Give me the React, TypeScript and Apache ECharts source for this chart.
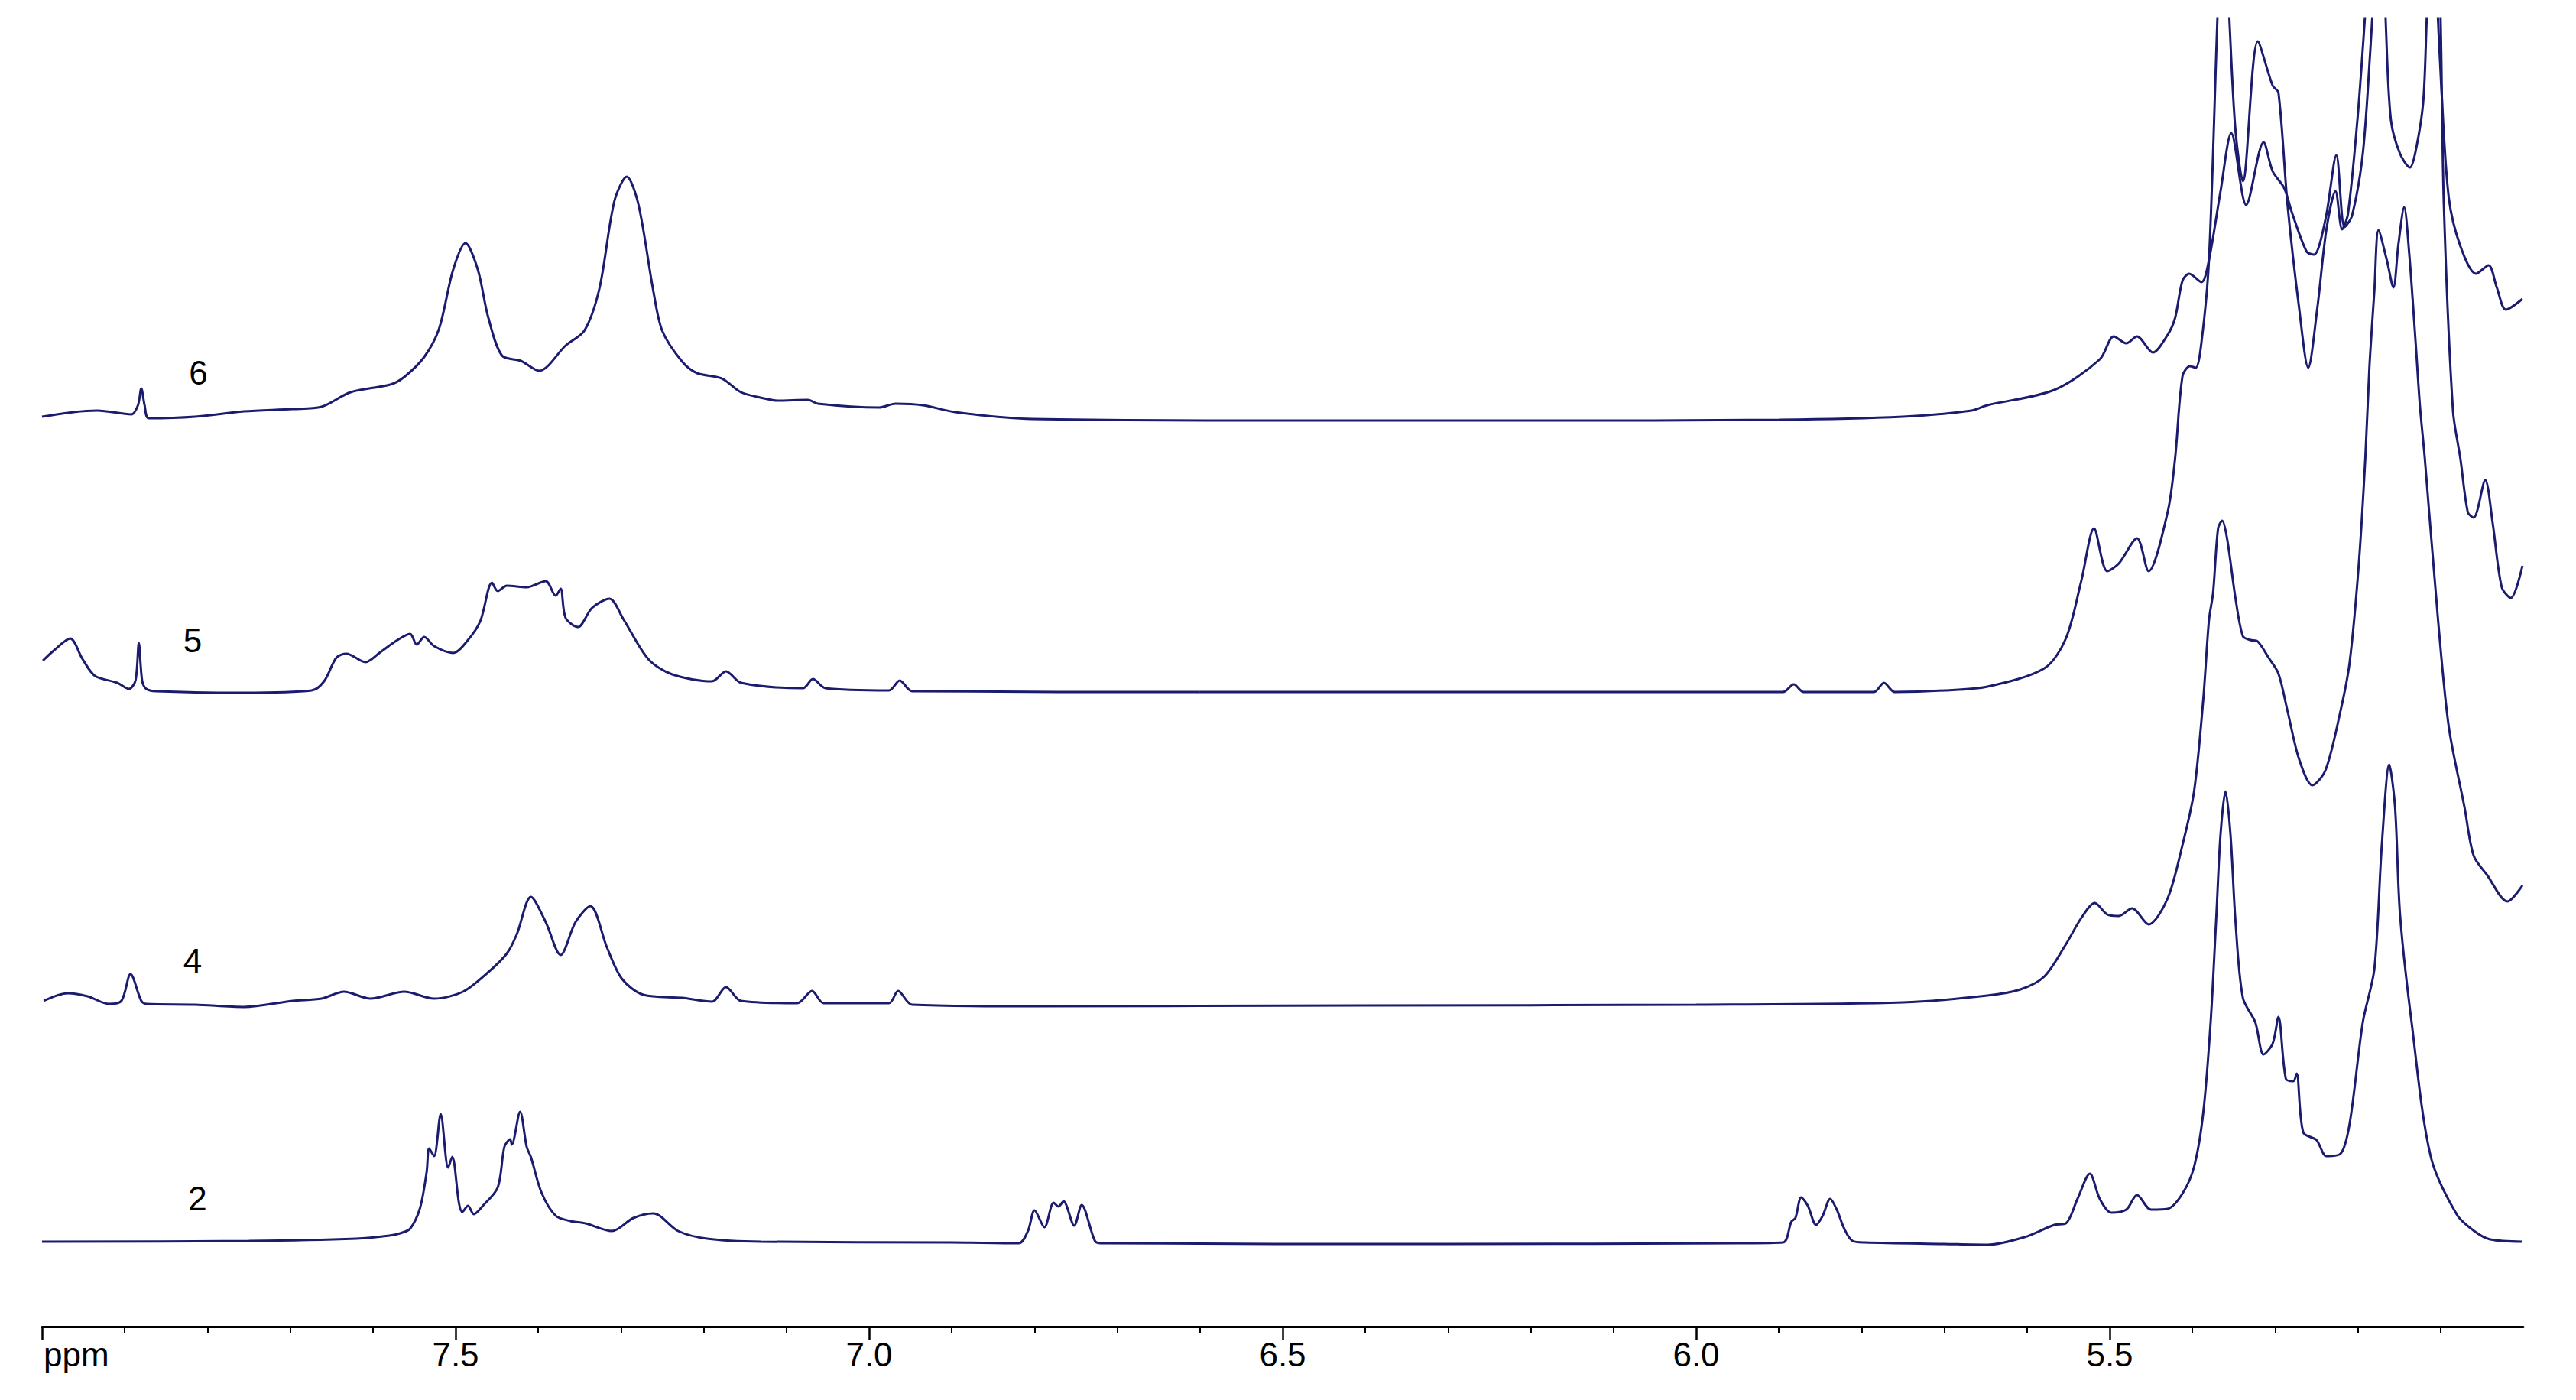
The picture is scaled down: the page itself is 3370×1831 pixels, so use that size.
import React, { useEffect, useRef } from 'react';
import * as echarts from 'echarts';

const COLOR = '#1b1c6e';
const FONT = '"Liberation Sans", Arial, sans-serif';

const sampleNames = ['2', '4', '5', '6'];
const labelPpm = [7.812, 7.818, 7.818, 7.811];
const labelIntensity = [168, 479, 898, 1248];
const majorTicks = [8.0, 7.5, 7.0, 6.5, 6.0, 5.5];
const tickLabels = [7.5, 7.0, 6.5, 6.0, 5.5];

const spectrum2: [number, number][] = [
  [8.0, 111], [7.75, 112], [7.62, 115], [7.58, 119], [7.567, 122], [7.555, 128], [7.543, 155], [7.535, 202],
  [7.532, 233], [7.526, 223], [7.518, 278], [7.509, 208], [7.504, 222], [7.496, 162], [7.492, 150], [7.485, 158],
  [7.478, 147], [7.467, 158], [7.449, 182], [7.441, 235], [7.434, 245], [7.432, 238], [7.422, 281], [7.414, 235],
  [7.409, 222], [7.396, 175], [7.379, 145], [7.361, 138], [7.343, 135], [7.311, 125], [7.285, 142], [7.261, 148],
  [7.231, 125], [7.196, 115], [7.131, 111], [6.9, 110], [6.819, 109], [6.808, 125], [6.8, 152], [6.788, 130],
  [6.777, 162], [6.771, 157], [6.765, 164], [6.752, 132], [6.743, 159], [6.727, 112], [6.72, 109], [6.3, 108],
  [5.95, 109], [5.895, 110], [5.885, 137], [5.88, 142], [5.873, 169], [5.865, 158], [5.855, 133], [5.847, 145],
  [5.838, 167], [5.83, 153], [5.821, 128], [5.811, 112], [5.796, 110], [5.7, 108], [5.648, 107], [5.603, 117],
  [5.567, 133], [5.553, 135], [5.539, 167], [5.524, 200], [5.512, 167], [5.498, 149], [5.48, 153], [5.467, 172],
  [5.45, 153], [5.43, 154], [5.412, 174], [5.398, 209], [5.387, 279], [5.378, 398], [5.371, 539], [5.366, 644],
  [5.36, 700], [5.354, 644], [5.348, 531], [5.339, 430], [5.324, 398], [5.314, 356], [5.303, 370], [5.296, 405],
  [5.287, 324], [5.278, 321], [5.274, 331], [5.266, 254], [5.25, 244], [5.238, 223], [5.221, 226], [5.21, 265],
  [5.194, 398], [5.18, 468], [5.171, 630], [5.162, 735], [5.155, 679], [5.149, 539], [5.135, 398], [5.112, 223],
  [5.08, 146], [5.058, 124], [5.04, 114], [5.001, 111],
];

const spectrum4: [number, number][] = [
  [7.998, 426], [7.969, 436], [7.945, 432], [7.919, 422], [7.904, 426], [7.893, 461], [7.88, 426], [7.874, 422],
  [7.815, 421], [7.756, 418], [7.697, 426], [7.662, 429], [7.635, 438], [7.603, 429], [7.562, 438], [7.526, 429],
  [7.491, 438], [7.461, 463], [7.438, 488], [7.426, 513], [7.409, 562], [7.391, 529], [7.373, 486], [7.355, 529],
  [7.337, 550], [7.317, 496], [7.299, 455], [7.273, 434], [7.226, 430], [7.19, 425], [7.173, 444], [7.155, 426],
  [7.087, 423], [7.069, 439], [7.055, 423], [6.976, 423], [6.965, 439], [6.948, 421], [6.803, 419], [6.4, 420],
  [6.0, 421], [5.75, 424], [5.648, 433], [5.608, 441], [5.579, 458], [5.553, 500], [5.534, 535], [5.518, 554],
  [5.503, 539], [5.489, 537], [5.473, 547], [5.453, 526], [5.43, 560], [5.412, 630], [5.398, 700], [5.387, 819],
  [5.38, 924], [5.375, 960], [5.369, 1044], [5.364, 1054], [5.358, 1030], [5.348, 953], [5.339, 903], [5.33, 898],
  [5.321, 896], [5.308, 875], [5.296, 854], [5.285, 805], [5.271, 742], [5.255, 708], [5.239, 728], [5.221, 805],
  [5.21, 868], [5.199, 995], [5.191, 1135], [5.186, 1255], [5.18, 1355], [5.175, 1434], [5.165, 1395], [5.157, 1359],
  [5.151, 1415], [5.144, 1464], [5.138, 1405], [5.13, 1285], [5.125, 1205], [5.119, 1135], [5.103, 924], [5.09, 784],
  [5.071, 679], [5.06, 616], [5.044, 591], [5.019, 556], [5.001, 577],
];

const spectrum5: [number, number][] = [
  [7.999, 871], [7.986, 884], [7.966, 900], [7.951, 873], [7.936, 851], [7.909, 842], [7.895, 834], [7.887, 845],
  [7.883, 894], [7.879, 845], [7.874, 834], [7.862, 831], [7.756, 829], [7.674, 832], [7.659, 844], [7.644, 875],
  [7.632, 880], [7.609, 869], [7.591, 882], [7.573, 896], [7.555, 906], [7.547, 892], [7.538, 902], [7.526, 890],
  [7.503, 881], [7.485, 898], [7.47, 923], [7.456, 973], [7.449, 962], [7.438, 969], [7.414, 967], [7.391, 975],
  [7.379, 956], [7.373, 965], [7.367, 927], [7.352, 915], [7.335, 940], [7.314, 952], [7.297, 925], [7.267, 873],
  [7.238, 853], [7.19, 844], [7.173, 857], [7.155, 842], [7.08, 835], [7.068, 847], [7.053, 835], [6.976, 832],
  [6.963, 845], [6.948, 831], [6.6, 830], [6.2, 830], [5.895, 830], [5.882, 840], [5.87, 830], [5.785, 830],
  [5.773, 842], [5.76, 830], [5.7, 832], [5.648, 837], [5.579, 861], [5.553, 900], [5.534, 977], [5.519, 1044],
  [5.503, 988], [5.489, 998], [5.467, 1031], [5.453, 988], [5.43, 1065], [5.421, 1135], [5.412, 1243], [5.403, 1256],
  [5.396, 1254], [5.389, 1288], [5.38, 1395], [5.37, 1704], [5.363, 1900], [5.355, 1703], [5.348, 1565], [5.339, 1498],
  [5.321, 1681], [5.303, 1623], [5.296, 1614], [5.285, 1467], [5.271, 1332], [5.26, 1254], [5.249, 1332], [5.238, 1435],
  [5.227, 1485], [5.219, 1435], [5.212, 1455], [5.2, 1585], [5.19, 1735], [5.175, 1980], [5.14, 1960], [5.112, 1980],
  [5.101, 1755], [5.096, 1467], [5.085, 1198], [5.076, 1135], [5.067, 1065], [5.06, 1058], [5.046, 1107], [5.037, 1051],
  [5.026, 967], [5.015, 953], [5.001, 995],
];

const spectrum6: [number, number][] = [
  [8.0, 1190], [7.962, 1196], [7.933, 1198], [7.892, 1193], [7.884, 1205], [7.88, 1227], [7.876, 1205], [7.871, 1188],
  [7.815, 1190], [7.756, 1197], [7.697, 1200], [7.662, 1203], [7.627, 1222], [7.579, 1232], [7.562, 1242], [7.538, 1268],
  [7.52, 1305], [7.503, 1382], [7.488, 1417], [7.473, 1382], [7.461, 1322], [7.444, 1270], [7.421, 1263], [7.399, 1250],
  [7.367, 1283], [7.344, 1303], [7.326, 1358], [7.308, 1472], [7.293, 1504], [7.279, 1468], [7.261, 1355], [7.25, 1302],
  [7.226, 1262], [7.208, 1247], [7.178, 1240], [7.155, 1222], [7.127, 1214], [7.111, 1211], [7.074, 1212], [7.062, 1207],
  [6.988, 1202], [6.968, 1207], [6.935, 1205], [6.896, 1196], [6.803, 1187], [6.5, 1185], [6.2, 1185], [5.9, 1186],
  [5.75, 1190], [5.667, 1198], [5.648, 1205], [5.567, 1225], [5.512, 1265], [5.495, 1295], [5.48, 1286], [5.467, 1295],
  [5.448, 1274], [5.43, 1297], [5.421, 1319], [5.412, 1368], [5.404, 1377], [5.389, 1366], [5.38, 1395], [5.366, 1485],
  [5.353, 1561], [5.335, 1467], [5.314, 1549], [5.303, 1511], [5.289, 1489], [5.28, 1458], [5.262, 1406], [5.253, 1402],
  [5.239, 1449], [5.226, 1532], [5.216, 1438], [5.207, 1453], [5.194, 1534], [5.185, 1668], [5.178, 1795], [5.172, 1900],
  [5.166, 1699], [5.16, 1578], [5.149, 1534], [5.137, 1516], [5.13, 1538], [5.121, 1601], [5.117, 1703], [5.111, 1880],
  [5.105, 1755], [5.099, 1619], [5.09, 1476], [5.076, 1413], [5.057, 1377], [5.042, 1388], [5.032, 1359], [5.021, 1330],
  [5.001, 1344],
];

const spectra = [spectrum2, spectrum4, spectrum5, spectrum6];

const AXIS_Y = 1735;
const LABEL_MARGIN = 14;

export default function App() {
  const ref = useRef<HTMLDivElement>(null);
  useEffect(() => {
    if (!ref.current) return;
    const chart = echarts.init(ref.current, null, { renderer: 'svg' });
    chart.setOption({
      animation: false,
      backgroundColor: '#ffffff',
      grid: { left: 55, right: 69, top: 24, bottom: 1831 - AXIS_Y, containLabel: false, outerBoundsMode: 'none' },
      xAxis: {
        type: 'value',
        inverse: true,
        min: 5,
        max: 8,
        interval: 0.5,
        axisLine: { show: true, onZero: false, lineStyle: { color: '#000', width: 3 } },
        axisTick: { show: true, length: 17, lineStyle: { color: '#000', width: 2.5 }, customValues: majorTicks },
        minorTick: { show: true, splitNumber: 5, length: 8, lineStyle: { color: '#000', width: 2 } },
        axisLabel: {
          customValues: tickLabels,
          formatter: (v: number) => v.toFixed(1),
          fontSize: 44,
          fontFamily: FONT,
          color: '#000',
          margin: LABEL_MARGIN,
        },
        splitLine: { show: false },
        minorSplitLine: { show: false },
      },
      yAxis: { type: 'value', min: 0, max: 1711, show: false, splitLine: { show: false } },
      series: spectra.map((d, i) => ({
        type: 'line',
        name: sampleNames[i],
        data: d,
        showSymbol: false,
        symbol: 'none',
        smooth: 0.3,
        clip: true,
        silent: true,
        lineStyle: { color: COLOR, width: 3 },
        markPoint: {
          symbol: 'circle',
          symbolSize: 1,
          silent: true,
          itemStyle: { color: 'rgba(0,0,0,0)' },
          label: {
            show: true,
            position: 'inside',
            formatter: sampleNames[i],
            color: '#000',
            fontSize: 44,
            fontFamily: FONT,
          },
          data: [{ coord: [labelPpm[i], labelIntensity[i]] }],
        },
      })),
      graphic: [
        {
          type: 'text',
          x: 57,
          y: AXIS_Y + LABEL_MARGIN,
          style: { text: 'ppm', fontSize: 44, fontFamily: FONT, fill: '#000', verticalAlign: 'top', align: 'left' },
        },
      ],
    });
    return () => chart.dispose();
  }, []);
  return (
    <div
      ref={ref}
      style={{ position: 'absolute', left: 0, top: 0, width: 3370, height: 1831, background: '#fff' }}
    />
  );
}
